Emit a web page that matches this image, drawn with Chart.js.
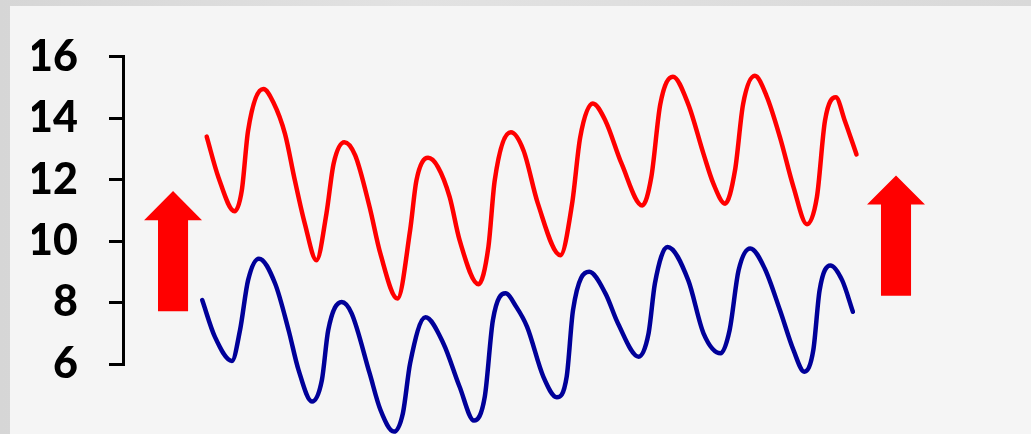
<!DOCTYPE html>
<html>
<head>
<meta charset="utf-8">
<script src="https://cdn.jsdelivr.net/npm/chart.js@4/dist/chart.umd.min.js"></script>
<style>
    html, body { margin: 0; padding: 0; }
    body {
        width: 1031px; height: 434px; overflow: hidden;
        background: linear-gradient(90deg, #d6d6d6, #e2e2e2 40%, #d9d9d9);
        position: relative;
    }
    .panel {
        position: absolute; left: 10px; top: 6px; right: 0; bottom: 0;
        background: #f5f5f5;
    }
    canvas { position: absolute; left: 0; top: 0; }
</style>
</head>
<body>
<div class="panel"></div>
<canvas id="waves" width="1031" height="434"></canvas>
<script>
// ── Series data (time units along x, value on y) ──
const redX = [9.3, 10.6, 12.4, 13.2, 13.9, 15.6, 16.7, 18.0, 19.1, 20.2, 21.5, 22.6, 23.4, 24.6, 25.8,
    27.4, 28.6, 30.5, 31.9, 32.6, 33.9, 35.0, 36.3, 37.4, 39.5, 40.6, 41.3, 43.1, 44.5, 46.1,
    48.6, 49.9, 50.8, 52.2, 53.6, 55.4, 57.7, 58.7, 59.7, 61.1, 62.8, 64.5, 65.6, 66.9, 68.0,
    68.9, 70.2, 71.5, 73.0, 74.5, 76.0, 77.1, 78.0, 79.2, 80.2, 81.5];
const redY = [13.40, 12.08, 10.97, 11.65, 13.60, 14.95, 14.52, 13.49, 11.97, 10.57, 9.38, 10.89, 12.52, 13.22, 12.79,
    11.11, 9.59, 8.13, 10.35, 11.97, 12.71, 12.41, 11.43, 10.03, 8.60, 9.81, 11.97, 13.54, 12.95, 11.22,
    9.54, 11.22, 13.38, 14.48, 13.92, 12.52, 11.16, 12.08, 14.46, 15.35, 14.46, 12.84, 11.87, 11.22, 12.30,
    14.46, 15.38, 14.73, 13.38, 11.76, 10.55, 11.43, 13.92, 14.68, 13.92, 12.82];

const blueX = [8.8, 10.2, 12.1, 13.0, 13.9, 15.1, 16.9, 18.4, 19.5, 21.0, 22.1, 22.8, 24.3, 25.4,
    27.4, 28.6, 30.1, 31.1, 31.9, 33.6, 35.6, 37.4, 39.0, 40.2, 41.1, 42.5, 43.7, 44.9,
    46.7, 48.2, 49.3, 50.0, 51.8, 53.6, 55.0, 57.3, 58.4, 59.1, 60.5, 62.8, 64.5, 66.4,
    67.4, 68.4, 69.7, 71.3, 73.0, 74.5, 75.7, 76.7, 77.4, 78.6, 79.9, 81.1];
const blueY = [8.08, 6.89, 6.10, 7.10, 8.73, 9.43, 8.62, 7.10, 5.81, 4.78, 5.48, 7.10, 8.02, 7.65,
    5.70, 4.51, 3.80, 4.40, 6.02, 7.52, 6.67, 5.26, 4.16, 4.94, 7.43, 8.30, 7.86, 7.21,
    5.59, 4.92, 5.59, 7.75, 9.00, 8.30, 7.32, 6.24, 7.00, 8.62, 9.81, 8.73, 7.00, 6.35,
    7.10, 9.05, 9.76, 9.11, 7.75, 6.45, 5.75, 6.45, 8.40, 9.21, 8.73, 7.70];

const yTicks = [6, 8, 10, 12, 14, 16];

// ── Upward arrows, placed in data units ──
const arrows = [
    { x: 5.56, base: 7.72, neck: 10.68, tip: 11.63 },
    { x: 85.89, base: 8.22, neck: 11.19, tip: 12.14 }
];

function toPoints(xs, ys) {
    return xs.map((x, i) => ({ x: x, y: ys[i] }));
}

const arrowPlugin = {
    id: 'arrows',
    afterDatasetsDraw(chart) {
        const { ctx, scales: { x, y } } = chart;
        ctx.save();
        ctx.fillStyle = '#ff0000';
        arrows.forEach(a => {
            const cx = x.getPixelForValue(a.x);
            const shaft = x.getPixelForValue(a.x + 1.67) - cx;
            const head = x.getPixelForValue(a.x + 3.22) - cx;
            const yb = y.getPixelForValue(a.base);
            const yn = y.getPixelForValue(a.neck);
            const yt = y.getPixelForValue(a.tip);
            ctx.beginPath();
            ctx.moveTo(cx - shaft, yb);
            ctx.lineTo(cx - shaft, yn);
            ctx.lineTo(cx - head, yn);
            ctx.lineTo(cx, yt);
            ctx.lineTo(cx + head, yn);
            ctx.lineTo(cx + shaft, yn);
            ctx.lineTo(cx + shaft, yb);
            ctx.closePath();
            ctx.fill();
        });
        ctx.restore();
    }
};

const lineStyle = {
    borderWidth: 4.5,
    pointRadius: 0,
    fill: false,
    cubicInterpolationMode: 'monotone',
    borderCapStyle: 'round',
    borderJoinStyle: 'round',
    clip: false
};

new Chart(document.getElementById('waves'), {
    type: 'line',
    data: {
        datasets: [
            Object.assign({ label: 'Red', data: toPoints(redX, redY), borderColor: '#ff0000' }, lineStyle),
            Object.assign({ label: 'Blue', data: toPoints(blueX, blueY), borderColor: '#000099' }, lineStyle)
        ]
    },
    options: {
        responsive: false,
        animation: false,
        layout: { padding: { left: 32, right: 8, top: 56, bottom: 70 } },
        plugins: { legend: { display: false }, tooltip: { enabled: false } },
        scales: {
            x: { type: 'linear', min: 0, max: 100, display: false },
            y: {
                min: 6, max: 16,
                afterBuildTicks: s => { s.ticks = yTicks.map(v => ({ value: v })); },
                afterFit: s => { s.width = 91; },
                grid: { drawOnChartArea: false, drawTicks: true, tickLength: 14, color: '#000', lineWidth: 3 },
                border: { display: true, color: '#000', width: 3 },
                ticks: {
                    padding: 31,
                    color: '#000',
                    font: { family: 'Lato', size: 43, weight: 900 }
                }
            }
        }
    },
    plugins: [arrowPlugin]
});
</script>
</body>
</html>
